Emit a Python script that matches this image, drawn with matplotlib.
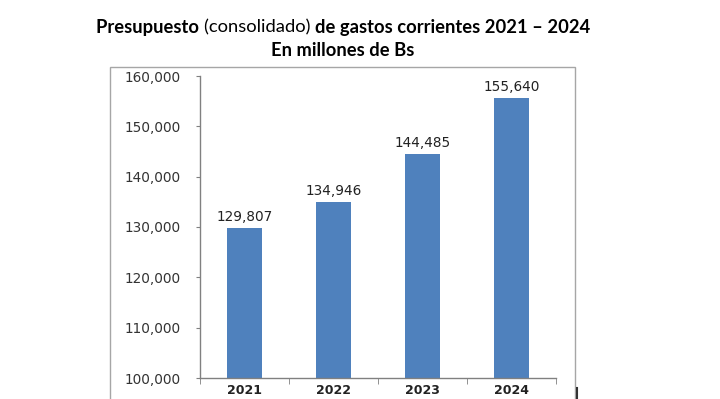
import numpy as np
import matplotlib.pyplot as plt
from matplotlib.patches import Rectangle
from matplotlib.ticker import FuncFormatter, MultipleLocator

# Data
years = ['2021', '2022', '2023', '2024']
values = [129807, 134946, 144485, 155640]

bar_color = '#4F81BD'
title_font = 'Lato'

fig = plt.figure(figsize=(7.2, 3.99), dpi=100)

# outer chart frame (cut at bottom in the original)
fig.patches.append(Rectangle((110 / 720, -0.1), 465 / 720, 0.1 + (399 - 67) / 399,
                             transform=fig.transFigure, fill=False,
                             edgecolor='#a6a6a6', linewidth=1.0))
fig.add_artist(plt.Line2D([577 / 720, 577 / 720], [0, 11 / 399],
                          transform=fig.transFigure, color='#333333', linewidth=1.5))

ax = fig.add_axes([200 / 720, 21 / 399, 356 / 720, 302 / 399])
x = np.arange(len(years))
ax.bar(x, values, width=0.4, color=bar_color, zorder=2)

for xi, v in zip(x, values):
    ax.annotate(f'{v:,}', (xi, v), xytext=(0, 3), textcoords='offset points',
                ha='center', va='bottom', fontsize=9.8, color='#222222',
                family='DejaVu Sans')

ax.set_xlim(-0.5, len(years) - 0.5)
ax.set_ylim(100000, 160000)
ax.yaxis.set_major_locator(MultipleLocator(10000))
ax.yaxis.set_major_formatter(FuncFormatter(lambda v, p: f'{int(v):,}'))

ax.set_xticks(x)
ax.set_xticklabels(years, fontsize=9, fontweight='bold', color='#222222')
ax.set_xticks(np.arange(-0.5, len(years)), minor=True)
ax.tick_params(axis='x', which='major', length=0, pad=4)
ax.tick_params(axis='x', which='minor', length=4, direction='out', color='#808080')
ax.tick_params(axis='y', length=3, direction='out', color='#808080',
               labelsize=9.8, labelcolor='#333333', pad=11)

for s in ['top', 'right']:
    ax.spines[s].set_visible(False)
for s in ['left', 'bottom']:
    ax.spines[s].set_color('#808080')
    ax.spines[s].set_linewidth(1.0)

# title with mixed weights, centered
def mixed_line(parts, y, size):
    texts = []
    for txt, wt in parts:
        if not texts:
            t = fig.text(0, y, txt, fontsize=size, fontweight=wt, family=title_font,
                         ha='left', va='center')
        else:
            t = plt.annotate(txt, xy=(1, 0), xycoords=texts[-1], xytext=(0, 0),
                             textcoords='offset points', fontsize=size, fontweight=wt,
                             family=title_font, ha='left', va='bottom',
                             annotation_clip=False)
        texts.append(t)
    return texts

line1 = mixed_line([('Presupuesto ', 'bold'), ('(consolidado) ', 'normal'),
                    ('de gastos corrientes 2021 – 2024', 'bold')], 1 - 27 / 399, 13.2)
fig.canvas.draw()
r = fig.canvas.get_renderer()
x0 = line1[0].get_window_extent(r).x0
x1 = line1[-1].get_window_extent(r).x1
center = 343
line1[0].set_x((center - (x1 - x0) / 2) / 720)

fig.text(343 / 720, 1 - 50 / 399, 'En millones de Bs', fontsize=13.2, fontweight='bold',
         family=title_font, ha='center', va='center')

fig.savefig('out.png', dpi=100)
